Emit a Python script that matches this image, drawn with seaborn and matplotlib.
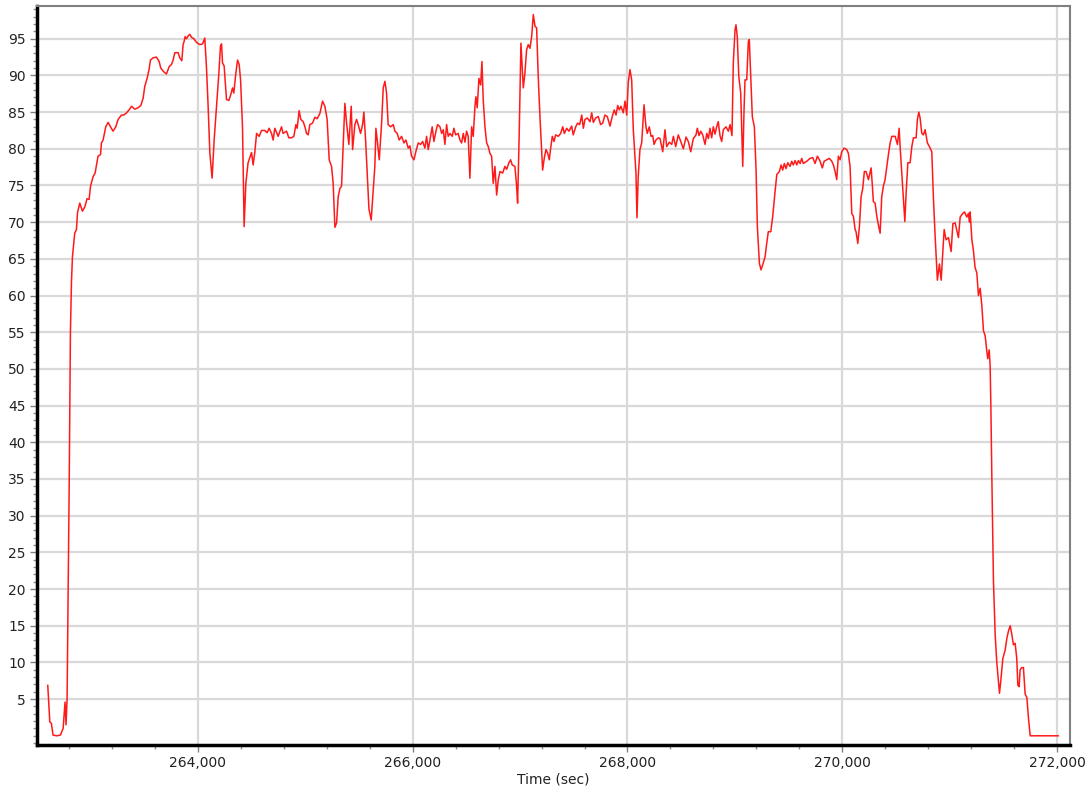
import matplotlib
matplotlib.use("Agg")
import matplotlib.pyplot as plt
import matplotlib.ticker as mticker
import numpy as np
import pandas as pd
import seaborn as sns

# ---- data (time in seconds, value) ----
time_sec = [
    262603, 262622, 262637, 262652, 262687, 262721, 262746, 262764, 262773, 262783,
    262792, 262803, 262814, 262824, 262833, 262854, 262870, 262880, 262901, 262926,
    262948, 262969, 262988, 263001, 263025, 263044, 263071, 263094, 263103, 263118,
    263143, 263165, 263187, 263211, 263236, 263258, 263289, 263311, 263336, 263360,
    263383, 263413, 263444, 263469, 263491, 263506, 263528, 263546, 263559, 263584,
    263615, 263640, 263655, 263683, 263708, 263733, 263755, 263770, 263786, 263817,
    263832, 263851, 263863, 263872, 263882, 263895, 263910, 263926, 263941, 263963,
    263988, 264019, 264044, 264065, 264081, 264096, 264112, 264133, 264152, 264174,
    264196, 264211, 264221, 264230, 264245, 264267, 264289, 264307, 264323, 264335,
    264354, 264370, 264385, 264398, 264416, 264431, 264447, 264468, 264500, 264515,
    264531, 264547, 264571, 264593, 264624, 264645, 264664, 264686, 264701, 264717,
    264748, 264779, 264794, 264826, 264847, 264873, 264894, 264913, 264925, 264943,
    264959, 264981, 264997, 265012, 265027, 265043, 265068, 265090, 265111, 265136,
    265161, 265183, 265204, 265223, 265245, 265260, 265276, 265292, 265307, 265323,
    265338, 265353, 265369, 265385, 265406, 265428, 265441, 265462, 265478, 265493,
    265515, 265534, 265546, 265562, 265577, 265593, 265614, 265633, 265648, 265658,
    265670, 265689, 265711, 265726, 265742, 265757, 265772, 265795, 265819, 265835,
    265856, 265875, 265897, 265919, 265937, 265959, 265974, 265990, 266012, 266033,
    266052, 266074, 266093, 266114, 266130, 266145, 266161, 266182, 266198, 266217,
    266232, 266254, 266270, 266285, 266300, 266316, 266331, 266347, 266368, 266384,
    266400, 266424, 266440, 266456, 266471, 266487, 266502, 266517, 266533, 266549,
    266564, 266580, 266589, 266601, 266617, 266633, 266645, 266657, 266673, 266689,
    266704, 266719, 266735, 266750, 266766, 266782, 266797, 266813, 266838, 266859,
    266875, 266896, 266912, 266927, 266952, 266968, 266977, 266992, 267008, 267020,
    267030, 267045, 267061, 267076, 267092, 267108, 267123, 267139, 267154, 267169,
    267185, 267201, 267210, 267225, 267241, 267257, 267272, 267285, 267300, 267316,
    267331, 267356, 267378, 267397, 267412, 267434, 267455, 267480, 267495, 267518,
    267536, 267555, 267574, 267589, 267604, 267626, 267651, 267667, 267682, 267704,
    267728, 267750, 267769, 267790, 267812, 267837, 267858, 267877, 267893, 267909,
    267924, 267939, 267961, 267977, 267993, 268007, 268023, 268039, 268054, 268079,
    268088, 268100, 268116, 268132, 268154, 268172, 268184, 268203, 268219, 268235,
    268247, 268265, 268287, 268303, 268328, 268349, 268365, 268389, 268412, 268427,
    268449, 268473, 268496, 268520, 268545, 268566, 268589, 268613, 268638, 268650,
    268666, 268682, 268700, 268722, 268738, 268753, 268768, 268784, 268799, 268815,
    268830, 268845, 268861, 268877, 268892, 268917, 268939, 268955, 268973, 268985,
    269001, 269010, 269022, 269036, 269054, 269073, 269085, 269094, 269110, 269125,
    269134, 269147, 269162, 269181, 269197, 269209, 269228, 269243, 269259, 269281,
    269296, 269311, 269334, 269352, 269374, 269390, 269414, 269430, 269445, 269460,
    269476, 269492, 269513, 269529, 269544, 269560, 269576, 269591, 269607, 269622,
    269637, 269669, 269700, 269725, 269746, 269768, 269793, 269814, 269830, 269855,
    269879, 269902, 269917, 269933, 269948, 269963, 269979, 269995, 270016, 270041,
    270056, 270072, 270088, 270103, 270119, 270128, 270144, 270159, 270175, 270190,
    270205, 270221, 270243, 270268, 270280, 270289, 270305, 270321, 270336, 270352,
    270367, 270382, 270398, 270414, 270429, 270445, 270461, 270492, 270513, 270529,
    270538, 270554, 270569, 270582, 270594, 270610, 270631, 270647, 270662, 270687,
    270699, 270712, 270724, 270740, 270755, 270771, 270792, 270811, 270833, 270848,
    270864, 270885, 270904, 270920, 270948, 270966, 270988, 271013, 271029, 271050,
    271081, 271097, 271122, 271137, 271159, 271174, 271183, 271190, 271206, 271220,
    271236, 271252, 271267, 271283, 271299, 271314, 271330, 271345, 271354, 271367,
    271376, 271383, 271392, 271407, 271423, 271438, 271463, 271476, 271494, 271516,
    271532, 271547, 271563, 271578, 271593, 271609, 271624, 271634, 271646, 271655,
    271671, 271686, 271702, 271718, 271733, 271749, 272012,
]

values = [
    6.9, 1.9, 1.7, 0.1, 0.0, 0.1, 1.0, 4.6, 1.5, 5.0,
    18.5, 35.0, 55.0, 62.0, 65.3, 68.5, 69.0, 71.3, 72.6, 71.5,
    72.1, 73.2, 73.1, 74.9, 76.2, 76.7, 79.0, 79.2, 80.8, 81.2,
    83.0, 83.6, 83.0, 82.4, 83.0, 84.0, 84.6, 84.6, 84.9, 85.3,
    85.8, 85.4, 85.6, 85.9, 86.9, 88.5, 89.6, 90.8, 92.1, 92.4,
    92.5, 91.9, 91.0, 90.5, 90.2, 91.2, 91.5, 92.1, 93.1, 93.1,
    92.4, 92.0, 94.2, 94.6, 95.3, 95.0, 95.4, 95.6, 95.2, 95.0,
    94.5, 94.2, 94.3, 95.1, 91.0, 85.8, 79.4, 76.0, 81.2, 85.8,
    90.3, 94.0, 94.3, 91.7, 91.3, 86.7, 86.6, 87.4, 88.3, 87.6,
    90.3, 92.1, 91.5, 89.4, 83.0, 69.4, 75.3, 78.1, 79.5, 77.8,
    79.6, 82.1, 81.7, 82.5, 82.5, 82.2, 82.8, 82.1, 81.2, 82.8,
    81.7, 83.0, 82.1, 82.4, 81.5, 81.5, 81.7, 83.3, 82.8, 85.2,
    84.0, 83.7, 83.0, 82.1, 81.9, 83.3, 83.5, 84.3, 84.1, 84.8,
    86.5, 85.8, 84.0, 78.5, 77.6, 75.3, 69.3, 69.9, 73.5, 74.6,
    74.9, 80.3, 86.2, 83.5, 80.6, 85.8, 79.9, 83.3, 84.0, 83.3,
    82.1, 83.3, 85.0, 81.2, 76.7, 71.8, 70.3, 74.4, 77.6, 82.8,
    81.2, 78.5, 83.5, 88.3, 89.2, 87.6, 83.3, 83.0, 83.3, 82.4,
    82.1, 81.2, 81.7, 80.8, 81.2, 80.1, 80.4, 79.0, 78.5, 79.8,
    80.8, 80.6, 81.0, 80.1, 81.7, 79.9, 81.2, 83.0, 81.0, 82.4,
    83.3, 83.0, 82.1, 82.6, 80.6, 83.3, 81.7, 82.1, 81.7, 82.8,
    81.9, 82.1, 81.2, 80.8, 82.1, 80.9, 82.4, 81.7, 76.0, 83.0,
    81.7, 85.8, 87.1, 85.6, 89.6, 88.7, 91.9, 86.7, 83.0, 80.8,
    80.3, 79.4, 79.0, 75.3, 77.6, 73.7, 75.8, 76.9, 76.7, 77.6,
    77.2, 78.1, 78.5, 77.8, 77.6, 74.9, 72.6, 82.1, 94.4, 91.2,
    88.3, 90.3, 93.5, 94.2, 93.7, 95.3, 98.3, 96.7, 96.5, 89.9,
    84.4, 79.9, 77.1, 78.7, 79.9, 79.4, 78.5, 80.1, 81.7, 81.0,
    81.9, 81.7, 82.1, 83.0, 82.1, 82.8, 82.4, 83.1, 81.9, 83.0,
    83.5, 83.3, 84.6, 82.8, 84.0, 84.2, 83.7, 84.9, 83.6, 84.2,
    84.4, 83.3, 83.5, 84.6, 84.4, 83.1, 84.4, 85.3, 84.6, 85.9,
    85.3, 85.8, 84.9, 86.5, 84.6, 89.0, 90.8, 89.4, 82.6, 76.7,
    70.6, 76.2, 79.9, 80.8, 86.0, 83.0, 82.1, 83.0, 81.7, 81.8,
    80.6, 81.2, 81.5, 81.4, 79.6, 82.6, 80.3, 80.9, 80.6, 81.7,
    80.3, 81.9, 81.0, 80.0, 81.6, 81.0, 79.6, 81.4, 81.9, 82.8,
    81.8, 82.4, 81.9, 80.6, 82.1, 81.4, 82.8, 81.5, 83.0, 82.0,
    83.0, 83.7, 81.8, 81.0, 82.6, 83.0, 82.4, 83.3, 81.8, 91.7,
    96.2, 96.9, 95.3, 89.9, 87.6, 77.6, 85.3, 89.4, 89.4, 94.6,
    94.9, 89.9, 84.4, 83.0, 77.1, 69.4, 64.4, 63.5, 64.2, 65.3,
    67.1, 68.7, 68.7, 70.8, 74.2, 76.5, 76.9, 77.8, 77.1, 78.0,
    77.3, 78.1, 77.6, 78.3, 77.8, 78.4, 77.8, 78.4, 78.0, 78.7,
    78.0, 78.3, 78.7, 78.8, 78.0, 79.0, 78.3, 77.4, 78.3, 78.5,
    78.7, 78.3, 77.8, 76.9, 75.8, 79.0, 78.5, 79.6, 80.1, 79.9,
    79.4, 77.6, 71.2, 70.8, 69.0, 68.7, 67.1, 69.4, 73.5, 74.6,
    76.9, 76.9, 75.8, 77.4, 74.9, 72.8, 72.6, 70.8, 69.6, 68.5,
    73.5, 74.9, 75.8, 77.6, 79.2, 80.8, 81.7, 81.7, 80.6, 82.8,
    80.3, 76.7, 73.1, 70.1, 74.0, 78.1, 78.1, 80.3, 81.5, 81.5,
    84.0, 85.0, 84.2, 82.1, 81.9, 82.6, 80.8, 80.3, 79.6, 73.3,
    68.1, 62.1, 64.3, 62.1, 69.0, 67.6, 67.9, 66.0, 69.8, 69.9,
    67.9, 70.7, 71.2, 71.4, 70.7, 71.2, 70.0, 71.4, 67.6, 66.2,
    63.8, 63.1, 60.0, 61.0, 58.6, 55.2, 54.5, 52.4, 51.4, 52.6,
    50.5, 44.8, 35.2, 21.0, 13.8, 10.0, 5.8, 7.6, 10.5, 11.7,
    13.3, 14.3, 15.0, 13.8, 12.4, 12.6, 10.5, 6.9, 6.7, 9.0,
    9.3, 9.3, 5.7, 5.2, 2.4, 0.0, 0.0,
]

y_ticks = list(range(5, 100, 5))
x_ticks = [264000, 266000, 268000, 270000, 272000]
x_label = "Time (sec)"

df = pd.DataFrame({"time": time_sec, "value": values})

sns.set_theme(style="white")
plt.rcParams["font.family"] = ["DejaVu Sans"]

fig = plt.figure(figsize=(10.92, 7.96), dpi=100)
ax = fig.add_axes([0.0336, 0.0641, 0.9463, 0.9287])

sns.lineplot(data=df, x="time", y="value", ax=ax, color="#ff1a1a",
             linewidth=1.1, estimator=None, sort=False)

ax.set_xlim(262500, 272120)
ax.set_ylim(-1.25, 99.5)

ax.set_yticks(y_ticks)
ax.set_yticklabels([str(v) for v in y_ticks])
ax.yaxis.set_minor_locator(mticker.MultipleLocator(1))
ax.set_xticks(x_ticks)
ax.set_xticklabels([f"{v:,}" for v in x_ticks])
ax.xaxis.set_minor_locator(mticker.MultipleLocator(400))

ax.grid(True, which="major", color="#d9d9d9", linewidth=1.6)
ax.set_axisbelow(True)

ax.tick_params(axis="both", which="major", direction="out", length=5,
               width=1, color="#808080", labelsize=10, labelcolor="#222222", pad=3)
ax.tick_params(axis="both", which="minor", direction="out", length=3,
               width=1, color="#909090")
ax.tick_params(axis="both", which="both", left=True, bottom=True)

for side in ["top", "right"]:
    ax.spines[side].set_color("#808080")
    ax.spines[side].set_linewidth(1.5)
for side in ["left", "bottom"]:
    ax.spines[side].set_color("#000000")
    ax.spines[side].set_linewidth(2.5)

ax.set_xlabel(x_label, fontsize=10, color="#222222", labelpad=2)
ax.set_ylabel("")

fig.savefig("out.png", dpi=100, facecolor="white")
